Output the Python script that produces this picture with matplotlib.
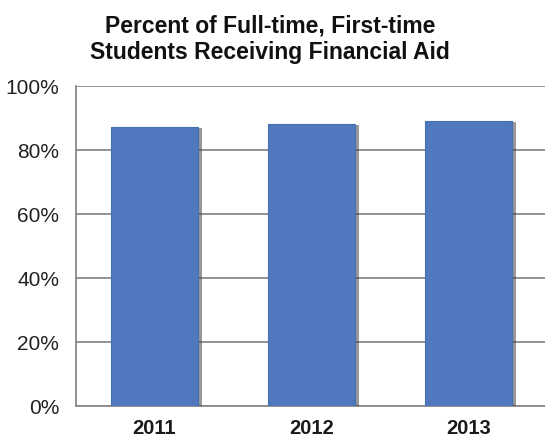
import matplotlib
matplotlib.use("Agg")
import matplotlib.pyplot as plt
import matplotlib.patheffects as pe
from matplotlib.ticker import FuncFormatter

years = ["2011", "2012", "2013"]
percent_aid = [87.2, 88.1, 89.1]

plt.rcParams["font.family"] = ["Liberation Sans", "DejaVu Sans"]

fig = plt.figure(figsize=(5.45, 4.39), dpi=100)
ax = fig.add_axes([76 / 545, 1 - 407 / 439, 471 / 545, 320 / 439])

bars = ax.bar(range(len(years)), percent_aid, width=0.56, color="#4F78BE",
              edgecolor="#4470B4", linewidth=0.8, zorder=3)
for b in bars:
    b.set_path_effects([pe.SimplePatchShadow(offset=(2.5, -1.0), shadow_rgbFace="#333333", alpha=0.5),
                        pe.Normal()])

ax.set_xlim(-0.5, 2.5)
ax.set_ylim(0, 100)
ax.set_yticks(range(0, 101, 20))
ax.yaxis.set_major_formatter(FuncFormatter(lambda v, _: f"{v:.0f}%"))
ax.set_xticks(range(len(years)))
ax.set_xticklabels(years, fontsize=14.5, fontweight="bold", color="#1a1a1a")
ax.tick_params(axis="y", labelsize=15, colors="#222222", length=0, pad=12)
ax.tick_params(axis="x", length=0, pad=9)
ax.grid(axis="y", color="#8a8a8a", linewidth=1.3, zorder=0)
for s in ["top", "right"]:
    ax.spines[s].set_visible(False)
ax.spines["left"].set_color("#8a8a8a")
ax.spines["left"].set_linewidth(1.3)
ax.spines["bottom"].set_color("#8a8a8a")
ax.spines["bottom"].set_linewidth(1.3)

fig.text(270 / 545, 1 - 39 / 439, "Percent of Full-time, First-time\nStudents Receiving Financial Aid",
         ha="center", va="center", fontsize=16.5, fontweight="bold", color="#111111",
         linespacing=1.2)

fig.savefig("out.png", dpi=100)
